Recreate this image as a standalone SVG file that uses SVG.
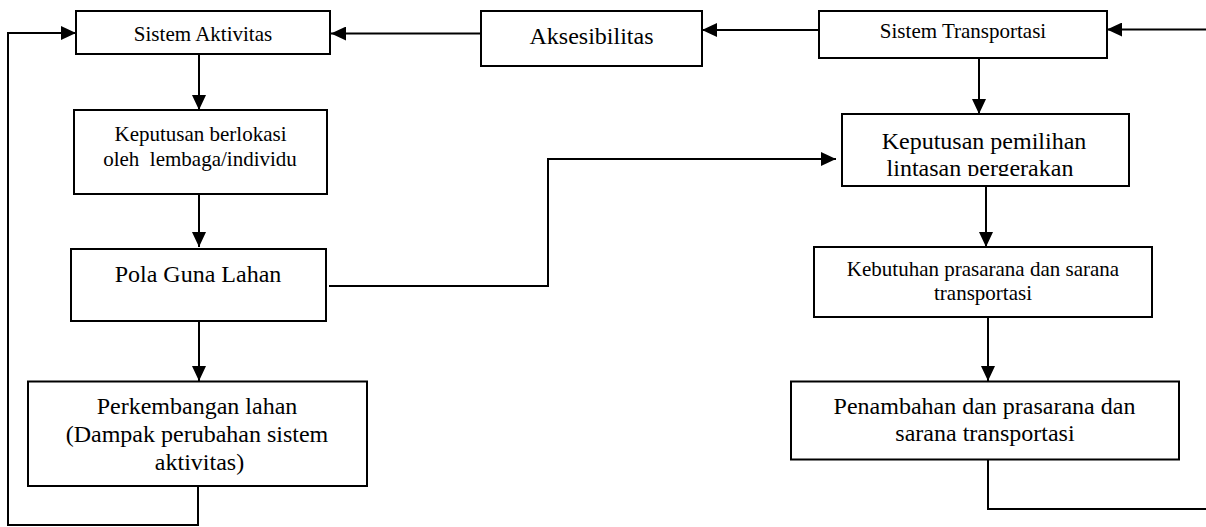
<svg xmlns="http://www.w3.org/2000/svg" width="1206" height="527" viewBox="0 0 1206 527">
  <style>
    .box { fill: #fff; stroke: #000; stroke-width: 2; }
    .lbl { font-family: 'Liberation Serif', 'DejaVu Serif', serif; fill: #000; text-anchor: middle; }
    .s21 { font-size: 21px; }
    .s24 { font-size: 24px; }
    .wire { fill: none; stroke: #000; stroke-width: 2; }
    .arrow { marker-end: url(#head); }
  </style>
  <defs>
    <marker id="head" markerUnits="userSpaceOnUse" markerWidth="16" markerHeight="14" refX="15" refY="7" orient="auto">
      <path d="M0,0 L15,7 L0,14 Z" fill="#000"/>
    </marker>
    <clipPath id="clipPemilihan">
      <rect x="842" y="114" width="288" height="62"/>
    </clipPath>
  </defs>
  <rect width="1206" height="527" fill="#fff"/>

  <!-- connectors -->
  <g id="connectors">
    <path class="wire arrow" d="M481,33.5 H331"/>
    <path class="wire arrow" d="M819,30 H702"/>
    <path class="wire arrow" d="M199,54 V110"/>
    <path class="wire arrow" d="M199,194 V247"/>
    <path class="wire arrow" d="M199,321 V381"/>
    <path class="wire arrow" d="M198,486 V525 H8 V33 H76"/>
    <path class="wire arrow" d="M329,286 H548 V159 H836"/>
    <path class="wire arrow" d="M979,58 V114"/>
    <path class="wire arrow" d="M986,186 V247"/>
    <path class="wire arrow" d="M988,317 V381"/>
    <path class="wire arrow" d="M988,454 V509 H1216 V29.5 H1107"/>
  </g>

  <!-- left column: activity system -->
  <g id="sistem-aktivitas">
    <rect class="box" x="76" y="11" width="254" height="43"/>
    <text class="lbl s21" x="203" y="40.5">Sistem Aktivitas</text>
  </g>
  <g id="keputusan-berlokasi">
    <rect class="box" x="74" y="110" width="253" height="84"/>
    <text class="lbl s21" x="200.5" y="140.5">Keputusan berlokasi</text>
    <text class="lbl s21" x="200" y="165.5" xml:space="preserve">oleh  lembaga/individu</text>
  </g>
  <g id="pola-guna-lahan">
    <rect class="box" x="71" y="249" width="255" height="72"/>
    <text class="lbl s24" x="198" y="281.5">Pola Guna Lahan</text>
  </g>
  <g id="perkembangan-lahan">
    <rect class="box" x="28" y="381.5" width="339" height="104.5"/>
    <text class="lbl s24" x="197" y="413.5">Perkembangan lahan</text>
    <text class="lbl s24" x="197" y="441.5">(Dampak perubahan sistem</text>
    <text class="lbl s24" x="199.5" y="469.5">aktivitas)</text>
  </g>

  <!-- middle: accessibility -->
  <g id="aksesibilitas">
    <rect class="box" x="481" y="11" width="221" height="55"/>
    <text class="lbl s24" x="591.5" y="43.5">Aksesibilitas</text>
  </g>

  <!-- right column: transport system -->
  <g id="sistem-transportasi">
    <rect class="box" x="819" y="11" width="288" height="47"/>
    <text class="lbl s21" x="963" y="37.5">Sistem Transportasi</text>
  </g>
  <g id="keputusan-pemilihan">
    <rect class="box" x="842" y="114" width="287" height="72"/>
    <g clip-path="url(#clipPemilihan)">
      <text class="lbl s24" x="984" y="148.5">Keputusan pemilihan</text>
      <text class="lbl s24" x="980" y="175.5">lintasan pergerakan</text>
    </g>
  </g>
  <g id="kebutuhan-prasarana">
    <rect class="box" x="814" y="247" width="338" height="70"/>
    <text class="lbl s21" x="983" y="276">Kebutuhan prasarana dan sarana</text>
    <text class="lbl s21" x="983" y="300">transportasi</text>
  </g>
  <g id="penambahan-prasarana">
    <rect class="box" x="791" y="381.5" width="388" height="78"/>
    <text class="lbl s24" x="984.5" y="413.5">Penambahan dan prasarana dan</text>
    <text class="lbl s24" x="985" y="440.5">sarana transportasi</text>
  </g>
</svg>
